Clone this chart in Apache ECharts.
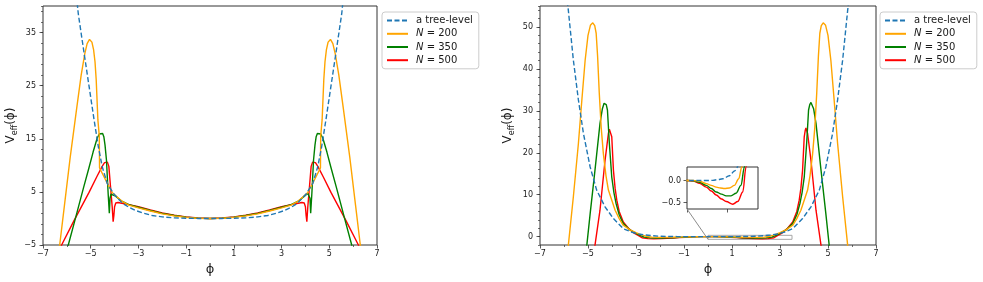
<!DOCTYPE html>
<html><head><meta charset="utf-8">
<script src="https://cdn.jsdelivr.net/npm/echarts@6/dist/echarts.min.js"></script>
<style>html,body{margin:0;padding:0;background:#fff}#c{width:983px;height:282px}</style>
</head><body><div id="c"></div>
<script>
const seriesNames = ['a tree-level', 'N = 200', 'N = 350', 'N = 500'];
const seriesColors = ['#1f77b4', '#ffa500', '#008000', '#ff0000'];
const leftYTicks = [-5, 5, 15, 25, 35];
const rightYTicks = [0, 10, 20, 30, 40, 50];
const insetYTicks = [0, -0.5];
const insetXTicks = [0, 2];
const insetBox = [[0, -0.65], [3.5, 0.31]];

// ---- left panel ----
const treeLeft = [[-5.6,42],[-5.52,38.5],[-5.28,31.2],[-5.07,24.9],[-4.86,18.6],[-4.68,13.5],[-4.52,9.8],[-4.31,6.6],[-4.03,4.6],[-3.68,2.9],[-3.4,2.1],[-3.12,1.5],[-2.8,1.0],[-2.42,0.55],[-2.0,0.3],[-1.5,0.1],[-1.0,0.03],[-0.5,0],[0,0],[0.5,0],[1.0,0.03],[1.5,0.1],[2.0,0.3],[2.42,0.55],[2.8,1.0],[3.12,1.5],[3.4,2.1],[3.68,2.9],[4.03,4.6],[4.31,6.6],[4.52,9.8],[4.68,13.5],[4.86,18.6],[5.07,24.9],[5.28,31.2],[5.52,38.5],[5.6,42]];
const n200Left = [[-6.36,-6],[-6.3,-5],[-6.1,2.5],[-5.86,11.5],[-5.58,21],[-5.4,27],[-5.25,31],[-5.15,32.9],[-5.05,33.7],[-4.95,33.2],[-4.88,31.8],[-4.82,29.5],[-4.77,26.1],[-4.7,18.6],[-4.64,15.5],[-4.63,9.5],[-4.55,8.8],[-4.38,7.3],[-4.1,4.9],[-3.68,3.2],[-3.4,2.5],[-3,2.0],[-2.5,1.4],[-2,0.85],[-1.5,0.48],[-1,0.2],[-0.5,0.05],[0,0],[0.5,0.05],[1,0.2],[1.5,0.48],[2,0.85],[2.5,1.4],[3,2.0],[3.4,2.5],[3.68,3.2],[4.1,4.9],[4.38,7.3],[4.55,8.8],[4.63,9.5],[4.64,15.5],[4.7,18.6],[4.77,26.1],[4.82,29.5],[4.88,31.8],[4.95,33.2],[5.05,33.7],[5.15,32.9],[5.25,31],[5.4,27],[5.58,21],[5.86,11.5],[6.1,2.5],[6.3,-5],[6.36,-6]];
const n350Left = [[-5.96,-5.5],[-5.94,-5],[-5.63,0.2],[-5.3,5.8],[-5.07,9.6],[-4.9,12.5],[-4.73,15.1],[-4.64,15.9],[-4.56,16.2],[-4.5,16.0],[-4.45,15.4],[-4.4,13.8],[-4.34,11.0],[-4.27,4.75],[-4.22,1.0],[-4.19,3.8],[-4.15,4.6],[-4.1,4.75],[-3.96,4.2],[-3.68,3.2],[-3.4,2.6],[-3,2.1],[-2.5,1.5],[-2,0.95],[-1.5,0.55],[-1,0.25],[-0.5,0.06],[0,0],[0.5,0.06],[1,0.25],[1.5,0.55],[2,0.95],[2.5,1.5],[3,2.1],[3.4,2.6],[3.68,3.2],[3.96,4.2],[4.1,4.75],[4.15,4.6],[4.19,3.8],[4.22,1.0],[4.27,4.75],[4.34,11.0],[4.4,13.8],[4.45,15.4],[4.5,16.0],[4.56,16.2],[4.64,15.9],[4.73,15.1],[4.9,12.5],[5.07,9.6],[5.3,5.8],[5.63,0.2],[5.94,-5],[5.96,-5.5]];
const n500Left = [[-6.25,-5.5],[-6.22,-5],[-5.7,-0.4],[-5.07,4.9],[-4.75,7.8],[-4.52,9.8],[-4.42,10.5],[-4.36,10.7],[-4.3,10.6],[-4.24,9.8],[-4.17,6.0],[-4.1,2.2],[-4.06,-0.6],[-4.03,0.5],[-4.0,2.2],[-3.95,2.9],[-3.85,3.0],[-3.75,2.9],[-3.4,2.6],[-3,2.2],[-2.5,1.6],[-2,1.05],[-1.5,0.6],[-1,0.3],[-0.5,0.08],[0,0],[0.5,0.08],[1,0.3],[1.5,0.6],[2,1.05],[2.5,1.6],[3,2.2],[3.4,2.6],[3.75,2.9],[3.85,3.0],[3.95,2.9],[4.0,2.2],[4.03,0.5],[4.06,-0.6],[4.1,2.2],[4.17,6.0],[4.24,9.8],[4.3,10.6],[4.36,10.7],[4.42,10.5],[4.52,9.8],[4.75,7.8],[5.07,4.9],[5.7,-0.4],[6.22,-5],[6.25,-5.5]];

// ---- right panel ----
const treeRight = [[-5.9,58],[-5.82,54],[-5.61,42.1],[-5.4,32.6],[-5.19,24.6],[-4.91,16.6],[-4.64,11.1],[-4.29,7.1],[-3.94,4.3],[-3.53,1.9],[-3.2,1.1],[-2.83,0.55],[-2.6,0.38],[-2.34,0.22],[-2.09,0.11],[-1.77,0.04],[-1.5,0.02],[-1.28,0.005],[-1.0,0],[-0.5,0],[0,0],[0.5,0],[1.0,0],[1.28,0.005],[1.5,0.02],[1.77,0.04],[2.09,0.11],[2.34,0.22],[2.6,0.38],[2.83,0.55],[3.2,1.1],[3.53,1.9],[3.94,4.3],[4.29,7.1],[4.64,11.1],[4.91,16.6],[5.19,24.6],[5.4,32.6],[5.61,42.1],[5.82,54],[5.9,58]];
const n200Right = [[-5.84,-3],[-5.82,-2.1],[-5.61,9.5],[-5.4,22.2],[-5.25,33],[-5.12,42],[-5.0,48],[-4.9,50.4],[-4.8,51.0],[-4.72,50.3],[-4.66,48.5],[-4.6,43],[-4.53,34.2],[-4.45,26],[-4.36,19.8],[-4.25,14.5],[-4.15,11.1],[-3.87,6.3],[-3.7,4.3],[-3.53,2.7],[-3.25,1.6],[-3.0,0.95],[-2.85,0.6],[-2.7,0.31],[-2.55,0.04],[-2.34,-0.11],[-2.09,-0.17],[-1.85,-0.18],[-1.65,-0.17],[-1.44,-0.15],[-1.2,-0.11],[-0.95,-0.07],[-0.62,-0.015],[-0.3,0],[0,0],[0.3,0],[0.62,-0.015],[0.95,-0.07],[1.2,-0.11],[1.44,-0.15],[1.65,-0.17],[1.85,-0.18],[2.09,-0.17],[2.34,-0.11],[2.55,0.04],[2.7,0.31],[2.85,0.6],[3.0,0.95],[3.25,1.6],[3.53,2.7],[3.7,4.3],[3.87,6.3],[4.15,11.1],[4.25,14.5],[4.36,19.8],[4.45,26],[4.53,34.2],[4.6,43],[4.66,48.5],[4.72,50.3],[4.8,51.0],[4.9,50.4],[5.0,48],[5.12,42],[5.25,33],[5.4,22.2],[5.61,9.5],[5.82,-2.1],[5.84,-3]];
const n350Right = [[-5.07,-3],[-5.05,-2.1],[-4.91,5.5],[-4.71,15.8],[-4.5,27.0],[-4.4,30.5],[-4.33,31.8],[-4.29,32.0],[-4.24,31.5],[-4.19,30.2],[-4.11,22.2],[-4.01,14.2],[-3.92,10.5],[-3.83,7.9],[-3.7,5.2],[-3.53,3.1],[-3.25,1.6],[-3.0,0.75],[-2.83,0.31],[-2.66,-0.11],[-2.42,-0.29],[-2.17,-0.35],[-1.93,-0.35],[-1.7,-0.31],[-1.44,-0.26],[-1.2,-0.18],[-0.95,-0.11],[-0.62,-0.04],[-0.3,-0.005],[0,0],[0.3,-0.005],[0.62,-0.04],[0.95,-0.11],[1.2,-0.18],[1.44,-0.26],[1.7,-0.31],[1.93,-0.35],[2.17,-0.35],[2.42,-0.29],[2.66,-0.11],[2.83,0.31],[3.0,0.75],[3.25,1.6],[3.53,3.1],[3.7,5.2],[3.83,7.9],[3.92,10.5],[4.01,14.2],[4.11,22.2],[4.19,30.2],[4.24,31.5],[4.29,32.0],[4.33,31.8],[4.4,30.5],[4.5,27.0],[4.71,15.8],[4.91,5.5],[5.05,-2.1],[5.07,-3]];
const n500Right = [[-4.73,-3],[-4.71,-2.1],[-4.5,6.3],[-4.29,18.2],[-4.15,24.6],[-4.11,25.6],[-4.08,25.9],[-4.05,25.3],[-4.01,23.8],[-3.94,15.8],[-3.87,11.5],[-3.8,8.7],[-3.7,6.0],[-3.53,3.5],[-3.3,1.9],[-3.1,0.9],[-2.91,0.31],[-2.75,-0.26],[-2.5,-0.48],[-2.26,-0.54],[-1.93,-0.48],[-1.7,-0.42],[-1.44,-0.33],[-1.2,-0.24],[-0.95,-0.15],[-0.62,-0.06],[-0.3,-0.01],[0,0],[0.3,-0.01],[0.62,-0.06],[0.95,-0.15],[1.2,-0.24],[1.44,-0.33],[1.7,-0.42],[1.93,-0.48],[2.26,-0.54],[2.5,-0.48],[2.75,-0.26],[2.91,0.31],[3.1,0.9],[3.3,1.9],[3.53,3.5],[3.7,6.0],[3.8,8.7],[3.87,11.5],[3.94,15.8],[4.01,23.8],[4.05,25.3],[4.08,25.9],[4.11,25.6],[4.15,24.6],[4.29,18.2],[4.5,6.3],[4.71,-2.1],[4.73,-3]];

const leftData = [treeLeft, n200Left, n350Left, n500Left];
const rightData = [treeRight, n200Right, n350Right, n500Right];

const FONT = 'DejaVu Sans';
const TXT = '#1a1a1a';
const minus = v => String(v).replace('-', '\u2212');
const noLine = { show: false, onZero: false };

function xAxisMain(gi) {
  return {
    type: 'value', gridIndex: gi, position: 'bottom', min: -7, max: 7, interval: 2,
    axisLine: noLine, splitLine: { show: false },
    axisTick: { length: 3.5, lineStyle: { color: '#333', width: 0.8 } },
    minorTick: { show: true, splitNumber: 2, length: 2, lineStyle: { color: '#333', width: 0.7 } },
    axisLabel: { fontSize: 8, fontFamily: FONT, color: TXT, margin: 5, formatter: minus },
    name: '\u03d5', nameLocation: 'middle', nameGap: 16,
    nameTextStyle: { fontSize: 13, fontFamily: FONT, color: TXT }
  };
}
function yAxisMinor(gi, mn, mx) {
  return {
    type: 'value', gridIndex: gi, position: 'left', min: mn, max: mx, interval: 2,
    axisLine: noLine, splitLine: { show: false },
    axisTick: { length: 2, lineStyle: { color: '#333', width: 0.7 } },
    axisLabel: { show: false }
  };
}
function yAxisMajor(gi, mn, mx, ticks) {
  return {
    type: 'value', gridIndex: gi, position: 'left', offset: 0, min: mn, max: mx,
    axisLine: noLine, splitLine: { show: false },
    axisTick: { length: 3.5, customValues: ticks, lineStyle: { color: '#333', width: 0.8 } },
    axisLabel: { customValues: ticks, fontSize: 8, fontFamily: FONT, color: TXT, margin: 7, formatter: minus },
    name: '{v|V}{s|eff}{v|(\u03d5)}', nameLocation: 'middle', nameGap: 24,
    nameTextStyle: {
      fontFamily: FONT, color: TXT,
      rich: {
        v: { fontSize: 12, fontFamily: FONT, color: TXT, lineHeight: 17, verticalAlign: 'middle' },
        s: { fontSize: 8, fontFamily: FONT, color: TXT, lineHeight: 17, verticalAlign: 'bottom' }
      }
    }
  };
}

function mkSeries(data, xi, yi, withArea) {
  const zs = [6, 5, 4, 3];
  return data.map((d, k) => {
    const s = {
      type: 'line', name: seriesNames[k], data: d, xAxisIndex: xi, yAxisIndex: yi,
      symbol: 'none', showSymbol: false, clip: true, z: zs[k], animation: false,
      lineStyle: { color: seriesColors[k], width: 1.4, type: k === 0 ? [5, 2.5] : 'solid' },
      itemStyle: { color: seriesColors[k] }
    };
    if (xi === 2) { s.smooth = 0.35; s.smoothMonotone = 'x'; }
    if (withArea && k === 0) {
      s.markArea = {
        silent: true,
        itemStyle: { color: 'rgba(0,0,0,0)', borderColor: '#a6a6a6', borderWidth: 1 },
        data: [[{ coord: insetBox[0] }, { coord: insetBox[1] }]]
      };
    }
    return s;
  });
}

function legend(left) {
  return {
    left: left, top: 12, orient: 'vertical', data: seriesNames,
    itemWidth: 21, itemHeight: 14, itemGap: 2,
    padding: [3, 6, 3, 4],
    borderColor: '#cccccc', borderWidth: 1, borderRadius: 3,
    backgroundColor: '#fff',
    selectedMode: false,
    itemStyle: { opacity: 0 },
    formatter: n => n.charAt(0) === 'N' ? '{i|N} = ' + n.slice(4) : n,
    textStyle: {
      fontSize: 10, fontFamily: FONT, color: TXT, padding: [0, 0, 0, 3],
      rich: { i: { fontSize: 10, fontFamily: FONT, fontStyle: 'italic', color: TXT } }
    }
  };
}

const chart = echarts.init(document.getElementById('c'), null, { renderer: 'canvas' });
const gridStyle = { show: true, borderColor: '#333', borderWidth: 1, backgroundColor: 'rgba(0,0,0,0)' };
chart.setOption({
  animation: false,
  backgroundColor: '#fff',
  grid: [
    Object.assign({ left: 43, top: 6, width: 334, height: 239 }, gridStyle),
    Object.assign({ left: 540, top: 6, width: 336, height: 239 }, gridStyle),
    Object.assign({ left: 687, top: 167, width: 71, height: 42 }, gridStyle, { backgroundColor: '#fff' })
  ],
  xAxis: [
    xAxisMain(0),
    xAxisMain(1),
    {
      type: 'value', gridIndex: 2, position: 'bottom', min: insetBox[0][0], max: insetBox[1][0],
      axisLine: noLine, splitLine: { show: false },
      axisTick: { length: 3.5, customValues: insetXTicks, lineStyle: { color: '#333', width: 0.8 } },
      axisLabel: { show: false }
    }
  ],
  yAxis: [
    yAxisMinor(0, -5, 40),
    yAxisMajor(0, -5, 40, leftYTicks),
    yAxisMinor(1, -2, 55),
    yAxisMajor(1, -2, 55, rightYTicks),
    {
      type: 'value', gridIndex: 2, position: 'left', min: insetBox[0][1], max: insetBox[1][1],
      axisLine: noLine, splitLine: { show: false },
      axisTick: { length: 3.5, customValues: insetYTicks, lineStyle: { color: '#333', width: 0.8 } },
      axisLabel: { customValues: insetYTicks, fontSize: 8, fontFamily: FONT, color: TXT, margin: 6,
        formatter: v => (v < 0 ? '\u2212' : '') + Math.abs(v).toFixed(1) }
    }
  ],
  legend: [legend(382), legend(880)],
  series: [].concat(mkSeries(leftData, 0, 0, false), mkSeries(rightData, 1, 2, true), mkSeries(rightData, 2, 4, false))
});

const p1 = chart.convertToPixel({ xAxisIndex: 1, yAxisIndex: 2 }, insetBox[0]);
const p2 = chart.convertToPixel({ xAxisIndex: 2, yAxisIndex: 4 }, insetBox[0]);
chart.setOption({
  graphic: [{
    type: 'line', silent: true, z: 10,
    shape: { x1: p1[0], y1: p1[1], x2: p2[0], y2: p2[1] },
    style: { stroke: '#8c8c8c', lineWidth: 1 }
  }]
});
</script></body></html>
